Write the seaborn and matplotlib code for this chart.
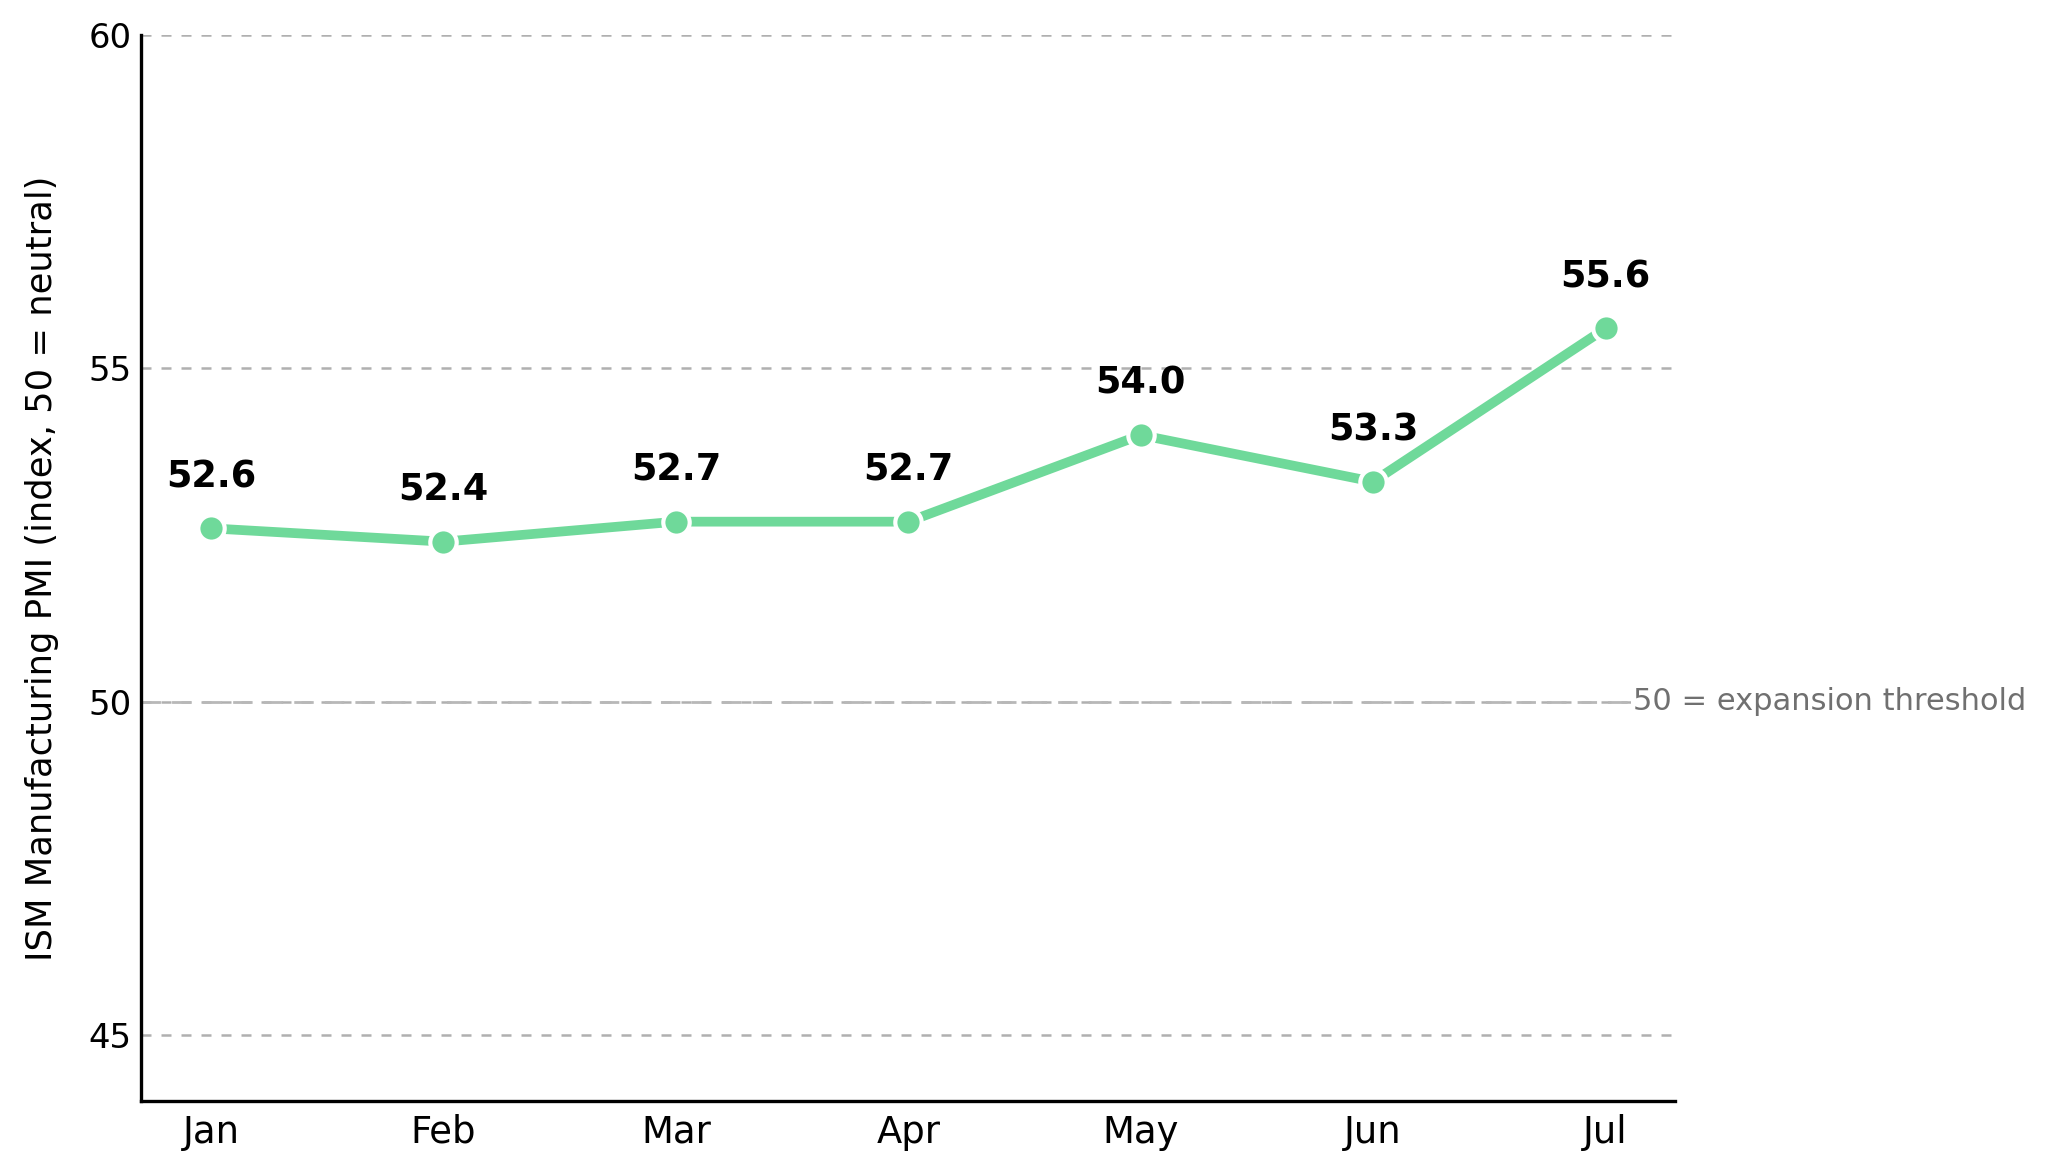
import pandas as pd
import seaborn as sns
import matplotlib.pyplot as plt

# Data
months = ["Jan", "Feb", "Mar", "Apr", "May", "Jun", "Jul"]
pmi = [52.6, 52.4, 52.7, 52.7, 54.0, 53.3, 55.6]
threshold = 50

df = pd.DataFrame({"month": months, "pmi": pmi})
line_color = "#6FD99A"

sns.set_style("white")
plt.rcParams.update({"text.color": "black", "axes.labelcolor": "black",
                     "xtick.color": "black", "ytick.color": "black"})
fig, ax = plt.subplots(figsize=(10.24, 5.865), dpi=200)
fig.subplots_adjust(left=0.069, right=0.818, top=0.970, bottom=0.061)

sns.lineplot(data=df, x="month", y="pmi", ax=ax, color=line_color,
             linewidth=3.5, marker="o", markersize=9.5,
             markeredgecolor="white", markeredgewidth=1.5, zorder=3)

ax.yaxis.grid(True, linestyle=(0, (4, 4)), color="#b0b0b0", linewidth=0.9)
ax.axhline(threshold, linestyle=(0, (7, 4)), color="#b8b8b8", linewidth=1.0, zorder=1)
ax.text(6.12, threshold, "50 = expansion threshold", ha="left", va="center",
        fontsize=11, color="#707070", zorder=4, clip_on=False,
        bbox=dict(facecolor="white", edgecolor="none", pad=1))

for i, v in enumerate(pmi):
    ax.annotate(f"{v:.1f}", (i, v), xytext=(0, 12), textcoords="offset points",
                ha="center", va="bottom", fontsize=13.2, fontweight="bold")

ax.set_xlim(-0.3, 6.3)
ax.set_ylim(44, 60)
ax.set_yticks([45, 50, 55, 60])
ax.set_xlabel("")
ax.set_ylabel("ISM Manufacturing PMI (index, 50 = neutral)", fontsize=12.7, labelpad=10.5)
ax.tick_params(axis="y", length=0, labelsize=12.2, pad=3.5)
ax.tick_params(axis="x", length=0, labelsize=13.3, pad=4.5)
sns.despine(ax=ax)
for s in ["left", "bottom"]:
    ax.spines[s].set_color("black")
    ax.spines[s].set_linewidth(1.2)

plt.savefig("out.png")
plt.close()
